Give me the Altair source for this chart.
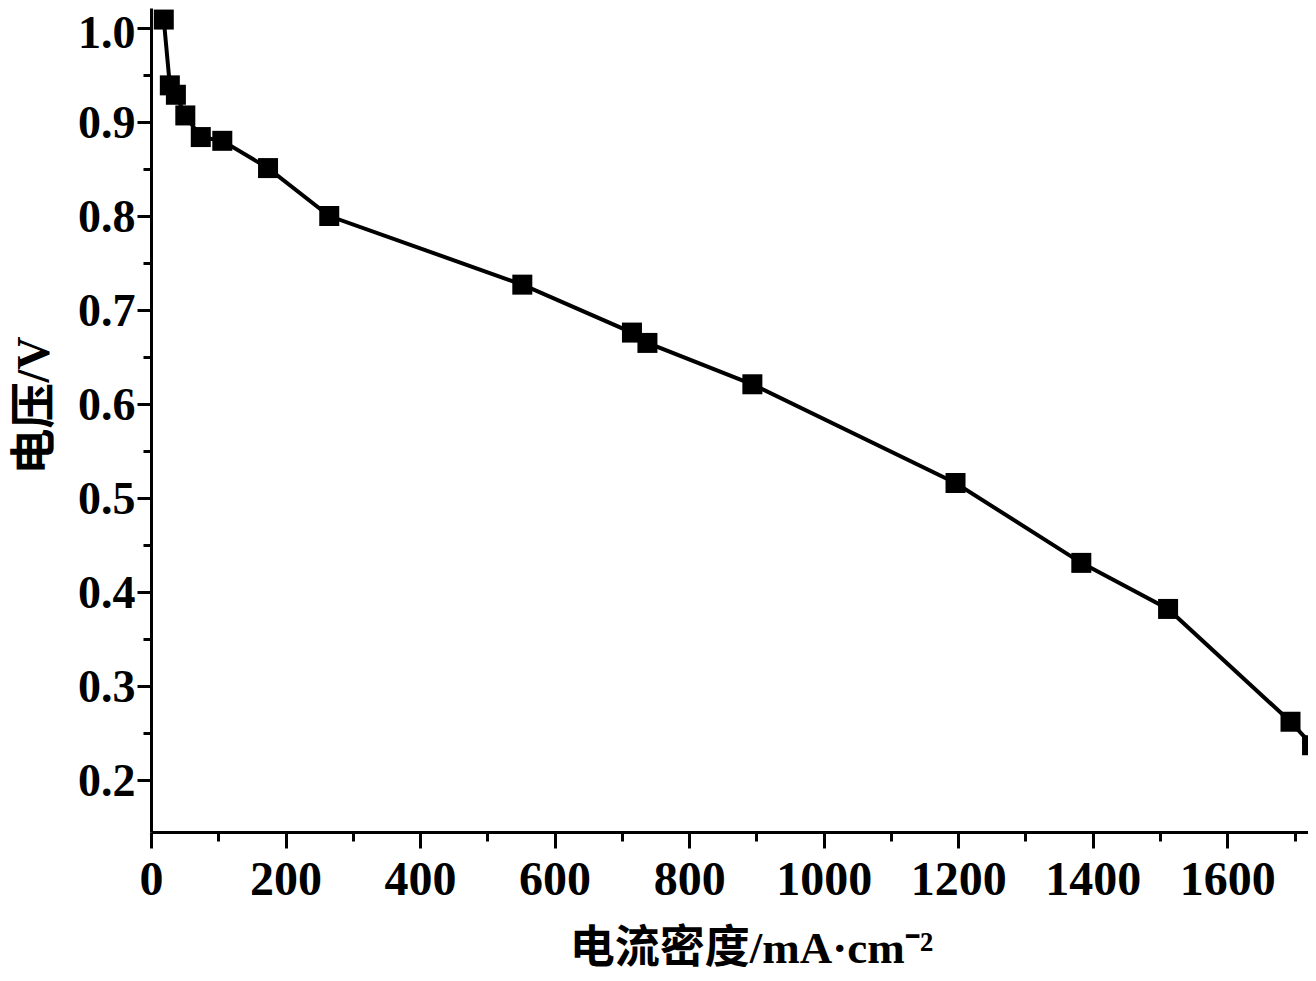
import altair as alt
import pandas as pd

current_density = [19, 28, 37, 51, 74, 106, 174, 265, 552, 715, 738, 894, 1196, 1383, 1512, 1694, 1726]
voltage = [1.009, 0.939, 0.929, 0.907, 0.884, 0.880, 0.851, 0.800, 0.727, 0.676, 0.665, 0.621, 0.516, 0.431, 0.382, 0.262, 0.237]

x_ticks = [0, 100, 200, 300, 400, 500, 600, 700, 800, 900, 1000, 1100, 1200, 1300, 1400, 1500, 1600, 1700]
y_ticks = [0.2, 0.25, 0.3, 0.35, 0.4, 0.45, 0.5, 0.55, 0.6, 0.65, 0.7, 0.75, 0.8, 0.85, 0.9, 0.95, 1.0]

df = pd.DataFrame({"i": current_density, "v": voltage})

FONT = "Liberation Serif, Noto Sans CJK SC"

x_enc = alt.X(
    "i:Q",
    scale=alt.Scale(domain=[0, 1720], nice=False, zero=False),
    axis=alt.Axis(
        values=x_ticks,
        labelExpr="datum.value % 200 === 0 ? datum.label : ''",
        format="d",
        grid=False,
        domainColor="black",
        domainWidth=3,
        tickColor="black",
        tickWidth=3,
        tickSize={"condition": {"test": "datum.value % 200 === 0", "value": 16}, "value": 9},
        labelFont=FONT,
        labelFontSize=48,
        labelFontWeight="bold",
        labelColor="black",
        labelPadding=8,
        labelFlush=False,
        labelOverlap=False,
        title="电流密度/mA·cm⁻²",
        titleFont=FONT,
        titleFontSize=45,
        titleFontWeight="bold",
        titleColor="black",
        titleX=600,
        titleY=116,
        titleBaseline="middle",
        titleAlign="center",
    ),
)

y_enc = alt.Y(
    "v:Q",
    scale=alt.Scale(domain=[0.1447, 1.0213], nice=False, zero=False),
    axis=alt.Axis(
        values=y_ticks,
        labelExpr="round(datum.value * 100) % 10 === 0 ? format(datum.value, '.1f') : ''",
        grid=False,
        domainColor="black",
        domainWidth=3,
        tickColor="black",
        tickWidth=3,
        tickSize={"condition": {"test": "round(datum.value * 100) % 10 === 0", "value": 14}, "value": 8},
        labelOffset={"condition": {"test": "datum.value > 0.99", "value": 5}, "value": 1},
        labelFont=FONT,
        labelFontSize=46,
        labelFontWeight="bold",
        labelColor="black",
        labelPadding=2,
        labelFlush=False,
        labelOverlap=False,
        title="电压/V",
        titleFont=FONT,
        titleFontSize=46,
        titleFontWeight="bold",
        titleColor="black",
        titleX=-117,
        titleY=397,
        titleAngle=-90,
        titleBaseline="middle",
        titleAlign="center",
    ),
)

base = alt.Chart(df).encode(x=x_enc, y=y_enc)

line = base.mark_line(color="black", strokeWidth=4)
pts = base.mark_square(size=400, color="black", opacity=1)

chart = (
    alt.layer(line, pts)
    .properties(
        width=1157,
        height=824,
        autosize=alt.AutoSizeParams(type="none"),
        padding={"left": 143, "top": 0, "right": 0, "bottom": 141},
        background="white",
    )
    .configure_view(stroke=None)
)

chart.save("out.html", embed_options={"renderer": "svg", "actions": False})
